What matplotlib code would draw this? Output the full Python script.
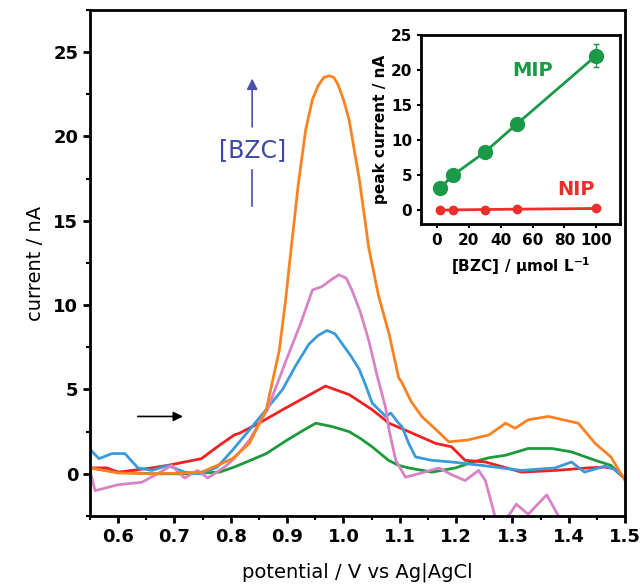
import matplotlib.pyplot as plt
from matplotlib.ticker import MultipleLocator

# voltammograms (potential in V, current in nA)
v_green = [0.55, 0.60, 0.66, 0.72, 0.78, 0.806, 0.835, 0.863, 0.90, 0.93, 0.951, 0.98, 1.01, 1.03, 1.051, 1.08, 1.098, 1.116, 1.157, 1.199, 1.23, 1.258, 1.288, 1.328, 1.37, 1.405, 1.447, 1.475, 1.5]
i_green = [0.35, 0.1, 0.0, 0.0, 0.1, 0.4, 0.8, 1.2, 2.0, 2.6, 3.0, 2.8, 2.5, 2.1, 1.6, 0.8, 0.5, 0.35, 0.1, 0.35, 0.7, 0.95, 1.1, 1.5, 1.5, 1.3, 0.8, 0.5, -0.25]

v_red = [0.55, 0.58, 0.60, 0.66, 0.688, 0.718, 0.748, 0.776, 0.806, 0.815, 0.85, 0.892, 0.93, 0.968, 1.01, 1.051, 1.081, 1.116, 1.164, 1.192, 1.216, 1.252, 1.316, 1.376, 1.435, 1.464, 1.48, 1.5]
i_red = [0.35, 0.35, 0.1, 0.35, 0.5, 0.7, 0.9, 1.6, 2.3, 2.4, 3.0, 3.8, 4.5, 5.2, 4.7, 3.8, 3.0, 2.5, 1.8, 1.6, 0.8, 0.7, 0.1, 0.2, 0.35, 0.4, 0.3, -0.3]

v_blue = [0.55, 0.566, 0.589, 0.612, 0.635, 0.66, 0.688, 0.718, 0.748, 0.776, 0.803, 0.838, 0.865, 0.892, 0.915, 0.939, 0.955, 0.971, 0.985, 0.998, 1.013, 1.028, 1.04, 1.051, 1.075, 1.084, 1.098, 1.104, 1.116, 1.128, 1.157, 1.192, 1.245, 1.316, 1.376, 1.405, 1.428, 1.464, 1.48, 1.5]
i_blue = [1.45, 0.9, 1.2, 1.2, 0.35, 0.2, 0.5, 0.1, 0.0, 0.4, 1.4, 2.8, 3.9, 5.0, 6.4, 7.7, 8.2, 8.5, 8.3, 7.7, 7.0, 6.2, 5.2, 4.2, 3.4, 3.6, 3.0, 2.8, 1.8, 1.0, 0.8, 0.7, 0.5, 0.2, 0.35, 0.7, 0.1, 0.45, 0.3, -0.3]

v_pink = [0.55, 0.559, 0.60, 0.642, 0.67, 0.695, 0.718, 0.741, 0.759, 0.789, 0.806, 0.833, 0.865, 0.898, 0.925, 0.945, 0.962, 0.978, 0.992, 1.005, 1.015, 1.03, 1.045, 1.06, 1.075, 1.081, 1.093, 1.11, 1.139, 1.169, 1.192, 1.216, 1.24, 1.252, 1.265, 1.28, 1.293, 1.307, 1.328, 1.361, 1.385]
i_pink = [0.2, -1.0, -0.65, -0.5, 0.0, 0.5, -0.25, 0.2, -0.25, 0.4, 0.9, 2.0, 3.8, 6.7, 9.0, 10.9, 11.1, 11.5, 11.8, 11.6, 10.9, 9.6, 7.9, 5.8, 3.9, 2.6, 0.8, -0.2, 0.05, 0.35, -0.05, -0.4, 0.2, -0.4, -2.0, -4.0, -2.5, -1.8, -2.4, -1.25, -2.7]

v_orange = [0.55, 0.60, 0.66, 0.718, 0.748, 0.776, 0.803, 0.833, 0.863, 0.886, 0.897, 0.907, 0.92, 0.933, 0.945, 0.955, 0.965, 0.975, 0.983, 0.99, 1.0, 1.010, 1.028, 1.045, 1.062, 1.081, 1.098, 1.104, 1.12, 1.139, 1.165, 1.187, 1.22, 1.258, 1.288, 1.305, 1.328, 1.364, 1.417, 1.447, 1.475, 1.5]
i_orange = [0.35, 0.05, 0.0, 0.05, 0.1, 0.5, 0.9, 1.8, 3.8, 7.3, 10.2, 13.3, 17.2, 20.4, 22.2, 23.0, 23.5, 23.6, 23.5, 23.1, 22.2, 21.0, 17.5, 13.4, 10.6, 8.3, 5.7, 5.4, 4.3, 3.4, 2.6, 1.9, 2.0, 2.3, 3.0, 2.7, 3.2, 3.4, 3.0, 1.8, 1.0, -0.4]

# inset: peak current vs concentration
conc = [2, 10, 30, 50, 100]
mip_peak = [3.2, 5.0, 8.3, 12.3, 22.1]
mip_err = [0.3, 0.3, 0.3, 0.4, 1.7]
nip_peak = [0.0, 0.05, 0.1, 0.15, 0.25]

fig = plt.figure(figsize=(6.4, 5.87), dpi=100)
ax = fig.add_axes([0.1406, 0.121, 0.836, 0.862])

ax.plot(v_green, i_green, color='#1a9a3a', lw=2)
ax.plot(v_red, i_red, color='#ee2222', lw=2)
ax.plot(v_blue, i_blue, color='#3b9ad9', lw=2)
ax.plot(v_pink, i_pink, color='#d883c6', lw=2)
ax.plot(v_orange, i_orange, color='#fb8220', lw=2)

ax.set_xlim(0.55, 1.5)
ax.set_ylim(-2.5, 27.5)
ax.xaxis.set_major_locator(MultipleLocator(0.1))
ax.xaxis.set_minor_locator(MultipleLocator(0.05))
ax.yaxis.set_major_locator(MultipleLocator(5))
ax.yaxis.set_minor_locator(MultipleLocator(2.5))
ax.tick_params(which='major', direction='out', length=5, width=2, labelsize=13)
ax.tick_params(which='minor', direction='out', length=3, width=1.5)
for lab in ax.get_xticklabels() + ax.get_yticklabels():
    lab.set_fontweight('bold')
for s in ax.spines.values():
    s.set_linewidth(2)
ax.set_xlabel('potential / V vs Ag|AgCl', fontsize=14, labelpad=12)
ax.set_ylabel('current / nA', fontsize=14, labelpad=6)

# scan direction arrow
ax.annotate('', xy=(0.72, 3.4), xytext=(0.63, 3.4),
            arrowprops=dict(arrowstyle='-|>', color='black', lw=1.2, mutation_scale=14))

# concentration arrow
ax.annotate('', xy=(0.838, 23.6), xytext=(0.838, 20.4),
            arrowprops=dict(arrowstyle='-|>', color='#4a4fa8', lw=1.2, mutation_scale=16))
ax.plot([0.838, 0.838], [15.9, 18.0], color='#4a4fa8', lw=1.2)
ax.text(0.838, 19.2, '[BZC]', color='#3f48a0', fontsize=17, ha='center', va='center')

# inset
ins = fig.add_axes([0.658, 0.618, 0.311, 0.322])
ins.errorbar(conc, mip_peak, yerr=mip_err, color='#1a9a48', marker='o', ms=10, lw=2, capsize=2, elinewidth=1)
ins.plot(conc, nip_peak, color='#ee2d2d', marker='o', ms=6, lw=2)
ins.set_xlim(-10, 115)
ins.set_ylim(-2, 25)
ins.xaxis.set_major_locator(MultipleLocator(20))
ins.yaxis.set_major_locator(MultipleLocator(5))
ins.tick_params(direction='out', length=3, width=1.5, labelsize=11)
for lab in ins.get_xticklabels() + ins.get_yticklabels():
    lab.set_fontweight('bold')
for s in ins.spines.values():
    s.set_linewidth(2)
ins.set_ylabel('peak current / nA', fontsize=11, fontweight='bold', labelpad=2)
ins.set_xlabel(r'[BZC] / $\mathbf{\mu}$mol L$^{\mathbf{-1}}$', fontsize=11, fontweight='bold', labelpad=5)
ins.text(60, 20, 'MIP', color='#1a9a48', fontsize=14, fontweight='bold', ha='center', va='center')
ins.text(87, 3.0, 'NIP', color='#ee2d2d', fontsize=14, fontweight='bold', ha='center', va='center')

fig.savefig('out.png', dpi=100)
